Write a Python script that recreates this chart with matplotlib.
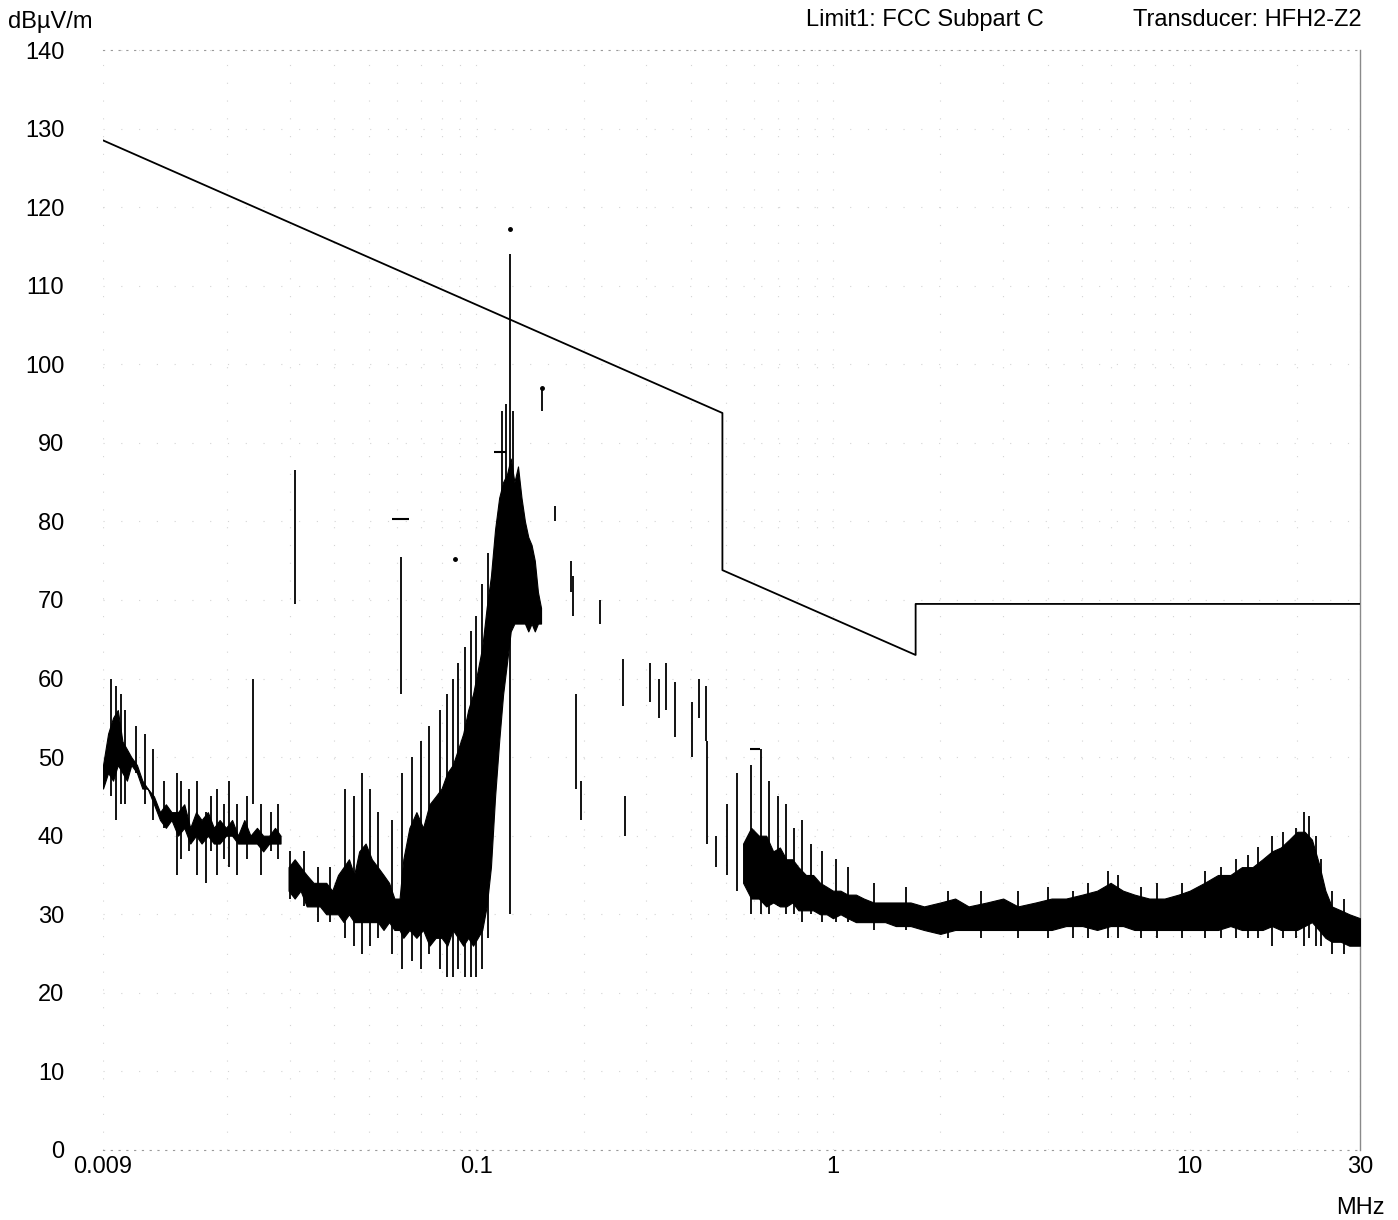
import numpy as np
import matplotlib.pyplot as plt
from matplotlib.ticker import FixedLocator, NullFormatter

plt.rcParams['font.family'] = ['Liberation Sans', 'DejaVu Sans']

# FCC Subpart C limit (MHz, dBuV/m)
limit_f = [0.009, 0.49, 0.49, 1.705, 1.705, 30.0]
limit_db = [128.5, 93.8, 73.8, 63.0, 69.5, 69.5]

# noise floor envelopes of the sweep, split where the trace breaks up
band1_f = [0.0090, 0.0093, 0.0096, 0.0099, 0.0102, 0.0105, 0.0108, 0.0112, 0.0116,
           0.0120, 0.0125, 0.0130, 0.0135, 0.0140, 0.0146, 0.0152, 0.0158, 0.0164,
           0.0170, 0.0177, 0.0184, 0.0191, 0.0199, 0.0207, 0.0215, 0.0224, 0.0233,
           0.0243, 0.0253, 0.0263, 0.0273, 0.0283]
band1_lo = [46, 48, 47, 49, 48, 47, 49, 48, 46, 46, 44, 42, 41, 42, 40, 41, 39, 40,
            39, 40, 39, 39, 40, 40, 39, 39, 39, 39, 38, 39, 39, 39]
band1_hi = [49, 53, 55, 56, 52, 51, 50, 49, 47, 46, 45, 43, 44, 43, 43, 44, 41, 43,
            42, 43, 41, 42, 41, 42, 40, 42, 40, 41, 40, 40, 41, 40]

band2_f = [0.0298, 0.0310, 0.0322, 0.0335, 0.0350, 0.0365, 0.0380, 0.0395, 0.0410,
           0.0425, 0.0440, 0.0455, 0.0470, 0.0490, 0.0510, 0.0530, 0.0550, 0.0570,
           0.0590, 0.0610, 0.0625, 0.0650, 0.0680, 0.0710, 0.0740, 0.0770, 0.0800,
           0.0830, 0.0860, 0.0890, 0.0920, 0.0950, 0.0980, 0.1010, 0.1040, 0.1070,
           0.1100, 0.1130, 0.1160, 0.1190, 0.1220, 0.1250, 0.1280, 0.1310, 0.1340,
           0.1370, 0.1400, 0.1430, 0.1460, 0.1490, 0.1520]
band2_lo = [33, 32, 33, 31, 31, 31, 30, 30, 30, 29, 30, 29, 29, 29, 29, 29, 28, 29,
            28, 28, 27, 28, 27, 28, 26, 27, 27, 26, 28, 27, 26, 27, 26, 27, 28, 31,
            36, 45, 52, 58, 62, 66, 67, 67, 67, 67, 66, 67, 66, 67, 67]
band2_hi = [36, 37, 36, 35, 34, 34, 34, 33, 35, 36, 37, 35, 38, 39, 37, 36, 35, 34,
            32, 32, 37, 41, 43, 41, 44, 45, 46, 48, 49, 51, 53, 56, 58, 61, 64, 69,
            73, 79, 83, 85, 86, 88, 85, 87, 83, 80, 78, 77, 75, 71, 69]

band3_f = [0.56, 0.59, 0.62, 0.65, 0.68, 0.71, 0.74, 0.77, 0.80, 0.84, 0.88, 0.92,
           0.96, 1.00, 1.05, 1.10, 1.16, 1.22, 1.30, 1.40, 1.50, 1.65, 1.80, 2.0,
           2.2, 2.4, 2.7, 3.0, 3.3, 3.7, 4.1, 4.5, 5.0, 5.5, 6.0, 6.5, 7.0, 7.7,
           8.5, 9.3, 10.0, 11.0, 12.0, 13.0, 14.0, 15.0, 16.0, 17.0, 18.0, 19.0,
           20.0, 21.0, 22.0, 23.0, 24.0, 25.0, 26.5, 28.0, 30.0]
band3_lo = [34, 32, 32, 31, 31.5, 31, 31, 31.5, 30.5, 30.5, 30.5, 30, 30, 29.5, 30,
            29.5, 29, 29, 29, 29, 28.5, 28.5, 28, 27.5, 28, 28, 28, 28, 28, 28, 28,
            28.5, 28.5, 28, 28.5, 28.5, 28, 28, 28, 28, 28, 28, 28, 28.5, 28, 28, 28,
            28.5, 28, 28, 28, 28.5, 29, 28, 27, 26.5, 26.5, 26, 26]
band3_hi = [39, 41, 40, 40, 38, 38.5, 37, 37, 36, 35, 35, 34, 33.5, 33, 33, 32.5, 32.5,
            32, 31.5, 31.5, 31.5, 31.5, 31, 31.5, 32, 31, 31.5, 32, 31, 31.5, 32, 32,
            32.5, 33, 34, 33, 32.5, 32, 32, 32.5, 33, 34, 35, 35, 36, 36, 37, 38, 38.5,
            39.5, 40.5, 40.5, 39.5, 36.5, 33, 31, 30.5, 30, 29.5]

# individual peaks standing out of the floor: (MHz, low dB, high dB)
spike_f = [0.0095, 0.0098, 0.0101, 0.0104, 0.0111, 0.0118, 0.0124, 0.0133, 0.0145,
           0.0149, 0.0157, 0.0165, 0.0175, 0.0181, 0.0188, 0.0196, 0.0203, 0.0214,
           0.0228, 0.0237, 0.0250, 0.0266, 0.0278, 0.0311, 0.0300, 0.0330, 0.0360,
           0.0390, 0.0430, 0.0455, 0.0480, 0.0505, 0.0530, 0.0580, 0.0616, 0.0620,
           0.0660, 0.0700, 0.0740, 0.0790, 0.0830, 0.0860, 0.0890, 0.0930, 0.0970,
           0.1000, 0.1040, 0.1080, 0.1180, 0.1210, 0.1245, 0.1270, 0.153, 0.166,
           0.184, 0.187, 0.191, 0.197, 0.222, 0.258, 0.261, 0.308, 0.326, 0.340,
           0.360, 0.402, 0.420, 0.440, 0.445, 0.470, 0.505, 0.540, 0.590, 0.630,
           0.660, 0.700, 0.740, 0.780, 0.820, 0.870, 0.930, 1.02, 1.10, 1.30, 1.60,
           2.10, 2.60, 3.30, 4.00, 4.70, 5.20, 5.90, 6.30, 7.30, 8.10, 9.50, 11.0,
           12.2, 13.5, 14.6, 15.5, 17.0, 18.3, 19.8, 20.9, 21.6, 22.6, 23.3, 25.0,
           27.0]
spike_lo = [45, 42, 44, 44, 48, 44, 42, 41, 35, 37, 38, 35, 34, 38, 35, 37, 36, 35,
            37, 44, 35, 38, 37, 69.5, 32, 31, 29, 29, 27, 26, 25, 26, 27, 25, 58, 23,
            24, 23, 25, 23, 22, 22, 23, 22, 22, 22, 23, 27, 60, 65, 30, 70, 94, 80,
            71, 68, 46, 42, 67, 56.5, 40, 57, 55, 56, 52.5, 50, 55, 52, 39, 36, 35,
            33, 30, 30, 30, 31, 30, 30, 29, 30, 29, 29, 29, 28, 28, 27, 27, 27, 27,
            27, 27, 27, 27, 27, 27, 27, 27, 27, 27, 27, 27, 26, 27, 27, 26, 27, 26,
            26, 25, 25]
spike_hi = [60, 59, 58, 56, 54, 53, 51, 47, 48, 47, 46, 47, 43, 45, 46, 44, 47, 44,
            45, 60, 44, 43, 44, 86.5, 38, 38, 36, 36, 46, 45, 48, 46, 43, 42, 75.5,
            48, 50, 52, 54, 56, 58, 60, 62, 64, 66, 68, 72, 76, 94, 95, 114, 94, 97,
            82, 75, 73, 58, 47, 70, 62.5, 45, 62, 60, 62, 59.5, 57, 60, 59, 52, 40,
            44, 48, 49, 51, 47, 45, 44, 41, 42, 39, 38, 37, 36, 34, 33.5, 33, 33,
            33, 33.5, 33, 34, 35.5, 35, 33.5, 34, 34, 35.5, 36, 37, 37.5, 38.5, 40,
            40.5, 41, 43, 42.5, 40, 37, 33, 32]

# short horizontal peak markers: (MHz start, MHz end, dB)
mark_f0 = [0.058, 0.112, 0.585]
mark_f1 = [0.065, 0.121, 0.625]
mark_db = [80.3, 88.8, 51.0]
# single detector dots
dot_f = [0.1245, 0.087, 0.153]
dot_db = [117.2, 75.2, 97.0]

fig = plt.figure(figsize=(13.98, 12.2), dpi=100)
ax = fig.add_axes([0.0737, 0.0574, 0.8991, 0.9016])
ax.set_xscale('log')
ax.set_xlim(0.009, 30)
ax.set_ylim(0, 140)

for bf, blo, bhi in [(band1_f, band1_lo, band1_hi),
                     (band2_f, band2_lo, band2_hi),
                     (band3_f, band3_lo, band3_hi)]:
    ax.fill_between(bf, blo, bhi, color='black', lw=0.8, zorder=3)
ax.vlines(spike_f, spike_lo, spike_hi, color='black', lw=1.3, zorder=3)
ax.hlines(mark_db, mark_f0, mark_f1, color='black', lw=1.5, zorder=3)
ax.plot(dot_f, dot_db, 'o', color='black', ms=2.5, zorder=3)

ax.plot(limit_f, limit_db, color='black', lw=1.3, zorder=4)

# faint dotted grid, decades plus 2..9 subdivisions
minor_x = [m * 10.0 ** e for e in range(-3, 2) for m in range(2, 10)]
minor_x = [v for v in minor_x if 0.009 < v < 30]
ax.xaxis.set_major_locator(FixedLocator([0.009, 0.1, 1, 10, 30]))
ax.xaxis.set_minor_locator(FixedLocator(minor_x))
ax.xaxis.set_minor_formatter(NullFormatter())
ax.set_xticklabels(['0.009', '0.1', '1', '10', '30'])
ax.set_yticks(np.arange(0, 141, 10))
ax.grid(True, which='both', color='#d4d4d4', lw=0.8, ls=(0, (1, 15)))
ax.tick_params(which='both', length=0, labelsize=17)
ax.tick_params(axis='y', pad=28)
ax.tick_params(axis='x', pad=4)

ax.spines['left'].set_visible(False)
for side in ['top', 'bottom']:
    ax.spines[side].set_color('#9a9a9a')
    ax.spines[side].set_linestyle((0, (1, 6)))
    ax.spines[side].set_linewidth(0.8)
ax.spines['right'].set_color('#8a8a8a')
ax.spines['right'].set_linewidth(1.0)

fig.text(8 / 1398, 1 - 22 / 1220, 'dBµV/m', fontsize=17, va='center', ha='left')
fig.text(806 / 1398, 1 - 20 / 1220, 'Limit1: FCC Subpart C', fontsize=17,
         va='center', ha='left')
fig.text(1362 / 1398, 1 - 20 / 1220, 'Transducer: HFH2-Z2', fontsize=17,
         va='center', ha='right')
fig.text(1360 / 1398, 1 - 1208 / 1220, 'MHz', fontsize=17, va='center', ha='center')

fig.savefig('out.png', dpi=100, facecolor='white')
